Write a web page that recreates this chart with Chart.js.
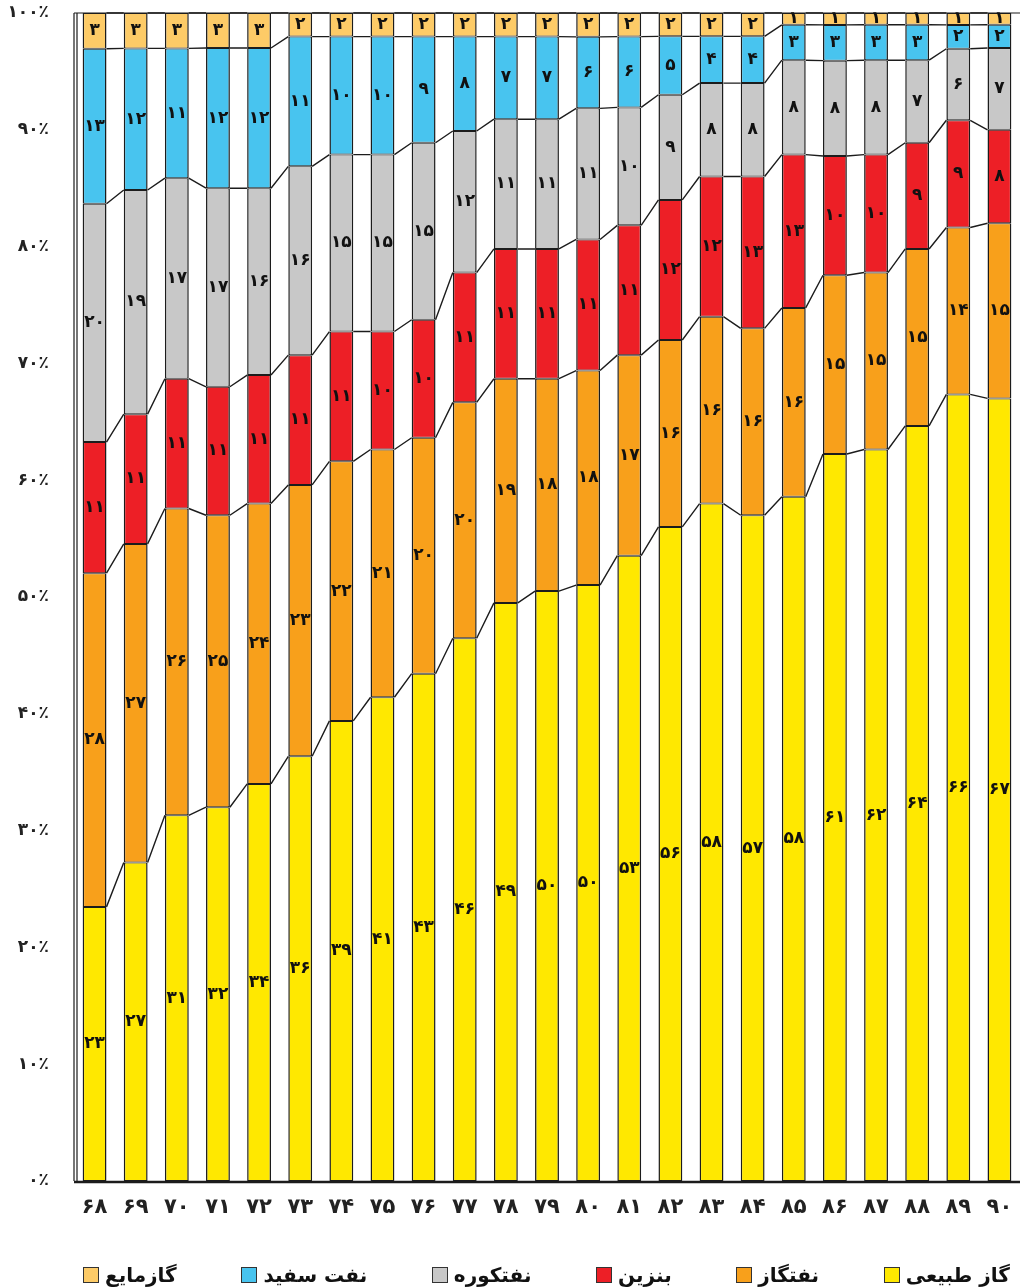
<!DOCTYPE html>
<html lang="fa">
<head>
<meta charset="utf-8">
<script src="https://cdn.jsdelivr.net/npm/chart.js@4.4.1/dist/chart.umd.min.js"></script>
<style>
  html, body { margin: 0; padding: 0; background: #fff; overflow: hidden; }
  #wrap { position: relative; width: 1020px; height: 1287px; }
  #legend {
    position: absolute; left: 83px; right: 10px; top: 1262px; height: 26px;
    display: flex; direction: rtl; justify-content: space-between; align-items: center;
    font: bold 20px 'DejaVu Sans', sans-serif; color: #111;
  }
  #legend .item { display: flex; align-items: center; gap: 6px; white-space: nowrap; }
  #legend .box { width: 14px; height: 14px; border: 1.5px solid #333; }
</style>
</head>
<body>
<div id="wrap">
  <canvas id="chart" width="1020" height="1287"></canvas>
  <div id="legend"></div>
</div>
<script>
/* share of fuels in energy consumption, years 68-90 */
const years = ['68','69','70','71','72','73','74','75','76','77','78','79',
               '80','81','82','83','84','85','86','87','88','89','90'];

const gas    = [23,27,31,32,34,36,39,41,43,46,49,50,50,53,56,58,57,58,61,62,64,66,67];
const gasoil = [28,27,26,25,24,23,22,21,20,20,19,18,18,17,16,16,16,16,15,15,15,14,15];
const benzin = [11,11,11,11,11,11,11,10,10,11,11,11,11,11,12,12,13,13,10,10, 9, 9, 8];
const koore  = [20,19,17,17,16,16,15,15,15,12,11,11,11,10, 9, 8, 8, 8, 8, 8, 7, 6, 7];
const sefid  = [13,12,11,12,12,11,10,10, 9, 8, 7, 7, 6, 6, 5, 4, 4, 3, 3, 3, 3, 2, 2];
const lpg    = [ 3, 3, 3, 3, 3, 2, 2, 2, 2, 2, 2, 2, 2, 2, 2, 2, 2, 1, 1, 1, 1, 1, 1];

const seriesNames  = ['گاز طبیعی', 'نفتگاز', 'بنزین', 'نفتکوره', 'نفت سفید', 'گازمایع'];
const seriesValues = [gas, gasoil, benzin, koore, sefid, lpg];
const seriesColors = ['#FFE800', '#F8A01B', '#ED1F26', '#C8C8C8', '#48C4EF', '#FDCB67'];
const yTicks = [0, 10, 20, 30, 40, 50, 60, 70, 80, 90, 100];

const FONT = "'DejaVu Sans', sans-serif";
const INK = '#1c1c1c';
const toFa = s => String(s).replace(/\d/g, d => '۰۱۲۳۴۵۶۷۸۹'[d]);

// each bar is drawn as a 100% stack, like the original
const totals = years.map((_, i) => seriesValues.reduce((s, arr) => s + arr[i], 0));

const datasets = seriesNames.map((name, k) => ({
  label: name,
  raw: seriesValues[k],
  data: seriesValues[k].map((v, i) => v / totals[i] * 100),
  backgroundColor: seriesColors[k],
  borderColor: INK,
  borderWidth: { top: 1, bottom: 1, left: 1.5, right: 1.5 },
  borderSkipped: false,
  barPercentage: 0.58,
  categoryPercentage: 1
}));

const frame = {
  id: 'frame',
  afterDatasetsDraw(chart) {
    const { ctx, chartArea: a } = chart;
    ctx.save();
    ctx.strokeStyle = INK;
    ctx.lineWidth = 1.2;
    ctx.beginPath();
    ctx.moveTo(a.left, a.top); ctx.lineTo(a.right, a.top);
    ctx.moveTo(a.left, a.top); ctx.lineTo(a.left, a.bottom);
    ctx.moveTo(a.left + 3, a.top); ctx.lineTo(a.left + 3, a.bottom);
    ctx.stroke();
    ctx.lineWidth = 2.5;
    ctx.beginPath();
    ctx.moveTo(a.left, a.bottom + 1); ctx.lineTo(a.right, a.bottom + 1);
    ctx.stroke();
    ctx.restore();
  }
};

// thin lines joining the top of each segment to the same segment in the next bar
const connectors = {
  id: 'connectors',
  afterDatasetsDraw(chart) {
    const ctx = chart.ctx;
    ctx.save();
    ctx.strokeStyle = INK;
    ctx.lineWidth = 1.4;
    chart.data.datasets.forEach((ds, k) => {
      const bars = chart.getDatasetMeta(k).data;
      ctx.beginPath();
      for (let i = 0; i < bars.length - 1; i++) {
        const a = bars[i], b = bars[i + 1];
        ctx.moveTo(a.x + a.width / 2, a.y);
        ctx.lineTo(b.x - b.width / 2, b.y);
      }
      ctx.stroke();
    });
    ctx.restore();
  }
};

const valueLabels = {
  id: 'valueLabels',
  afterDatasetsDraw(chart) {
    const ctx = chart.ctx;
    ctx.save();
    ctx.font = 'bold 17px ' + FONT;
    ctx.fillStyle = '#111';
    ctx.textAlign = 'center';
    ctx.textBaseline = 'middle';
    chart.data.datasets.forEach((ds, k) => {
      chart.getDatasetMeta(k).data.forEach((bar, i) => {
        ctx.fillText(toFa(ds.raw[i]), bar.x, (bar.y + bar.base) / 2);
      });
    });
    ctx.restore();
  }
};

const chart = new Chart(document.getElementById('chart').getContext('2d'), {
  type: 'bar',
  data: { labels: years, datasets },
  plugins: [frame, connectors, valueLabels],
  options: {
    responsive: false,
    animation: false,
    devicePixelRatio: 1,
    layout: { padding: { left: 0, top: 13, right: 0, bottom: 61 } },
    plugins: {
      tooltip: { enabled: false },
      legend: { display: false }
    },
    scales: {
      x: {
        stacked: true,
        grid: { display: false, drawTicks: false },
        border: { display: false },
        ticks: {
          color: '#222',
          font: { family: FONT, size: 21, weight: 'bold' },
          padding: 14,
          autoSkip: false,
          maxRotation: 0,
          callback: (v, i) => toFa(years[i])
        },
        afterFit: s => { s.height = 45; s.paddingLeft = 0; s.paddingRight = 0; }
      },
      y: {
        stacked: true,
        min: 0,
        max: 100,
        grid: { display: false, drawTicks: false },
        border: { display: false },
        afterBuildTicks: s => { s.ticks = yTicks.map(v => ({ value: v })); },
        ticks: {
          color: '#222',
          font: { family: FONT, size: 17, weight: 'bold' },
          padding: 25,
          callback: v => toFa(v) + '٪'
        },
        afterFit: s => { s.width = 74; s.paddingTop = 0; s.paddingBottom = 0; }
      }
    }
  }
});

// legend: reads right to left, swatch after the name
const legendEl = document.getElementById('legend');
chart.data.datasets.forEach(ds => {
  const item = document.createElement('span');
  item.className = 'item';
  const txt = document.createElement('span');
  txt.textContent = ds.label;
  const box = document.createElement('span');
  box.className = 'box';
  box.style.background = ds.backgroundColor;
  item.append(txt, box);
  legendEl.appendChild(item);
});
</script>
</body>
</html>
